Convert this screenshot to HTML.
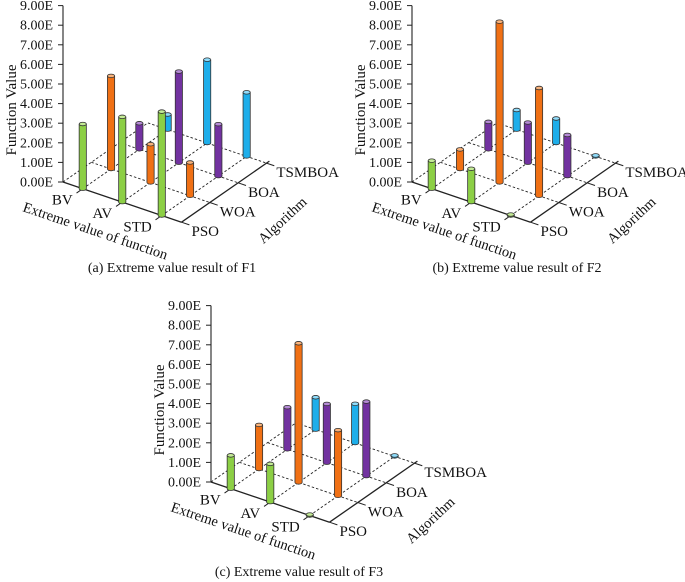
<!DOCTYPE html>
<html><head><meta charset="utf-8"><style>
html,body{margin:0;padding:0;background:#fff;}
svg{display:block;font-family:"Liberation Serif",serif;}
</style></head><body>
<svg id="fig" width="685" height="582" viewBox="0 0 685 582" xmlns="http://www.w3.org/2000/svg"></svg>
<script>
const categories = ["BV","AV","STD"];
const algorithms = ["PSO","WOA","BOA","TSMBOA"];
const yTicks = ["0.00E","1.00E","2.00E","3.00E","4.00E","5.00E","6.00E","7.00E","8.00E","9.00E"];
// values[algorithm][category]
const f1PSO = [3.3, 4.35, 5.3];
const f1WOA = [4.75, 1.95, 1.7];
const f1BOA = [1.33, 4.65, 2.65];
const f1TSMBOA = [0.77, 4.25, 3.27];
const f2PSO = [1.43, 1.7, 0.05];
const f2WOA = [1.0, 8.2, 5.5];
const f2BOA = [1.4, 2.05, 2.1];
const f2TSMBOA = [1.0, 1.25, 0.05];
const f3PSO = [1.7, 1.95, 0.05];
const f3WOA = [2.25, 7.1, 3.35];
const f3BOA = [2.15, 3.0, 3.8];
const f3TSMBOA = [1.65, 2.0, 0.05];
const captions = ["(a) Extreme value result of F1","(b) Extreme value result of F2","(c) Extreme value result of F3"];

const NS = "http://www.w3.org/2000/svg";
const svg = document.getElementById('fig');
const colors = ["#8ccf45","#f07014","#7232a0","#1eaeea"];
const tops = ["#c4eb96","#f9b27a","#b58ad6","#8fdcfb"];
function mk(tag, attrs, parent){
  const e = document.createElementNS(NS, tag);
  for (const k in attrs) e.setAttribute(k, attrs[k]);
  (parent||svg).appendChild(e);
  return e;
}
const C = [39.5, 13.4], D = [28.3, -19.7], U = 19.6;

function panel(key, ox, oy, series, caption, capX, capY){
  const g = mk('g', {});
  
  
  const O = [63 + ox, 182 + oy];
  const P = (a, b) => [O[0] + a*C[0] + b*D[0], O[1] + a*C[1] + b*D[1]];
  const yPix = v => O[1] - v*U;
  const dash = {stroke:'#222','stroke-width':0.9,'stroke-dasharray':'2.5,2',fill:'none'};
  let p1 = O, p2 = P(0,3);
  let l = mk('line', Object.assign({x1:p1[0],y1:p1[1],x2:p2[0],y2:p2[1]}, dash), g);
  
  
  for (let j = 1; j <= 3; j++) {
    p1 = P(0,j); p2 = P(3,j);
    l = mk('line', Object.assign({x1:p1[0],y1:p1[1],x2:p2[0],y2:p2[1]}, dash), g);
    
    
  }
  for (let i = 0; i < categories.length; i++) {
    p1 = P(i+0.5,0); p2 = P(i+0.5,3);
    l = mk('line', Object.assign({x1:p1[0],y1:p1[1],x2:p2[0],y2:p2[1]}, dash), g);
    
    
  }
  const ya = mk('line', {x1:O[0],y1:O[1],x2:O[0],y2:yPix(9),stroke:'#222','stroke-width':1.1}, g);
  
  
  yTicks.forEach((t, k) => {
    const y = yPix(k);
    mk('line', {x1:O[0]-5,y1:y,x2:O[0],y2:y,stroke:'#222','stroke-width':1}, g);
    const tx = mk('text', {x:O[0]-10,y:y+4.5,'font-size':14,'text-anchor':'end',fill:'#111'}, g);
    tx.textContent = t;
    
    
  });
  const yt = mk('text', {x:0,y:0,'font-size':15,'text-anchor':'middle',fill:'#111',transform:`translate(${O[0]-47},${O[1]-72}) rotate(-90)`}, g);
  yt.textContent = 'Function Value';
  
  
  const F = P(3,0);
  const fa = mk('line', {x1:O[0],y1:O[1],x2:F[0],y2:F[1],stroke:'#222','stroke-width':1.3}, g);
  
  
  categories.forEach((c, i) => {
    const p = P(i+0.5,0);
    mk('line', {x1:p[0],y1:p[1],x2:p[0]-D[0]*0.22,y2:p[1]-D[1]*0.22,stroke:'#222','stroke-width':1}, g);
    const tx = mk('text', {x:p[0]-10,y:p[1]+16,'font-size':15,'text-anchor':'end',fill:'#111'}, g);
    tx.textContent = c;
    
    
  });
  const xt = mk('text', {x:0,y:0,'font-size':14.5,fill:'#111',transform:`translate(${O[0]-41},${O[1]+29}) rotate(18.7)`}, g);
  xt.textContent = 'Extreme value of function';
  
  
  const T = P(3,3);
  const da = mk('line', {x1:F[0],y1:F[1],x2:T[0]+3,y2:T[1]-2,stroke:'#222','stroke-width':1.3}, g);
  
  
  algorithms.forEach((a, j) => {
    const p = P(3,j);
    mk('line', {x1:p[0],y1:p[1],x2:p[0]+C[0]*0.2,y2:p[1]+C[1]*0.2,stroke:'#222','stroke-width':1}, g);
    const tx = mk('text', {x:p[0]+10,y:p[1]+14,'font-size':15,fill:'#111'}, g);
    tx.textContent = a;
    
    
  });
  const at = mk('text', {x:0,y:0,'font-size':14.5,fill:'#111',transform:`translate(${F[0]+82},${F[1]+22}) rotate(-43)`}, g);
  at.textContent = 'Algorithm';
  
  
  for (let j = algorithms.length - 1; j >= 0; j--) {
    for (let i = 0; i < categories.length; i++) {
      const v = series[j][i];
      const b = P(i+0.5, j);
      const h = v*U;
      const bg = mk('g', {}, g);
      
      
      const w = 3.6;
      mk('ellipse', {cx:b[0],cy:b[1],rx:w,ry:1.8,fill:colors[j],stroke:'#333','stroke-width':0.8}, bg);
      mk('rect', {x:b[0]-w,y:b[1]-h,width:w*2,height:h,fill:colors[j],stroke:'none'}, bg);
      mk('line', {x1:b[0]-w,y1:b[1]-h,x2:b[0]-w,y2:b[1],stroke:'#333','stroke-width':0.8}, bg);
      mk('line', {x1:b[0]+w,y1:b[1]-h,x2:b[0]+w,y2:b[1],stroke:'#333','stroke-width':0.8}, bg);
      mk('ellipse', {cx:b[0],cy:b[1]-h,rx:w,ry:1.8,fill:tops[j],stroke:'#333','stroke-width':0.8}, bg);
    }
  }
  const cap = mk('text', {x:capX,y:capY,'font-size':14,'text-anchor':'middle',fill:'#111'}, g);
  cap.textContent = caption;
  
  
}
panel('f1', 0, 0, [f1PSO,f1WOA,f1BOA,f1TSMBOA], captions[0], 172, 272);
panel('f2', 349, 0, [f2PSO,f2WOA,f2BOA,f2TSMBOA], captions[1], 517, 272);
panel('f3', 148, 300, [f3PSO,f3WOA,f3BOA,f3TSMBOA], captions[2], 299, 576);
</script>
</body></html>
